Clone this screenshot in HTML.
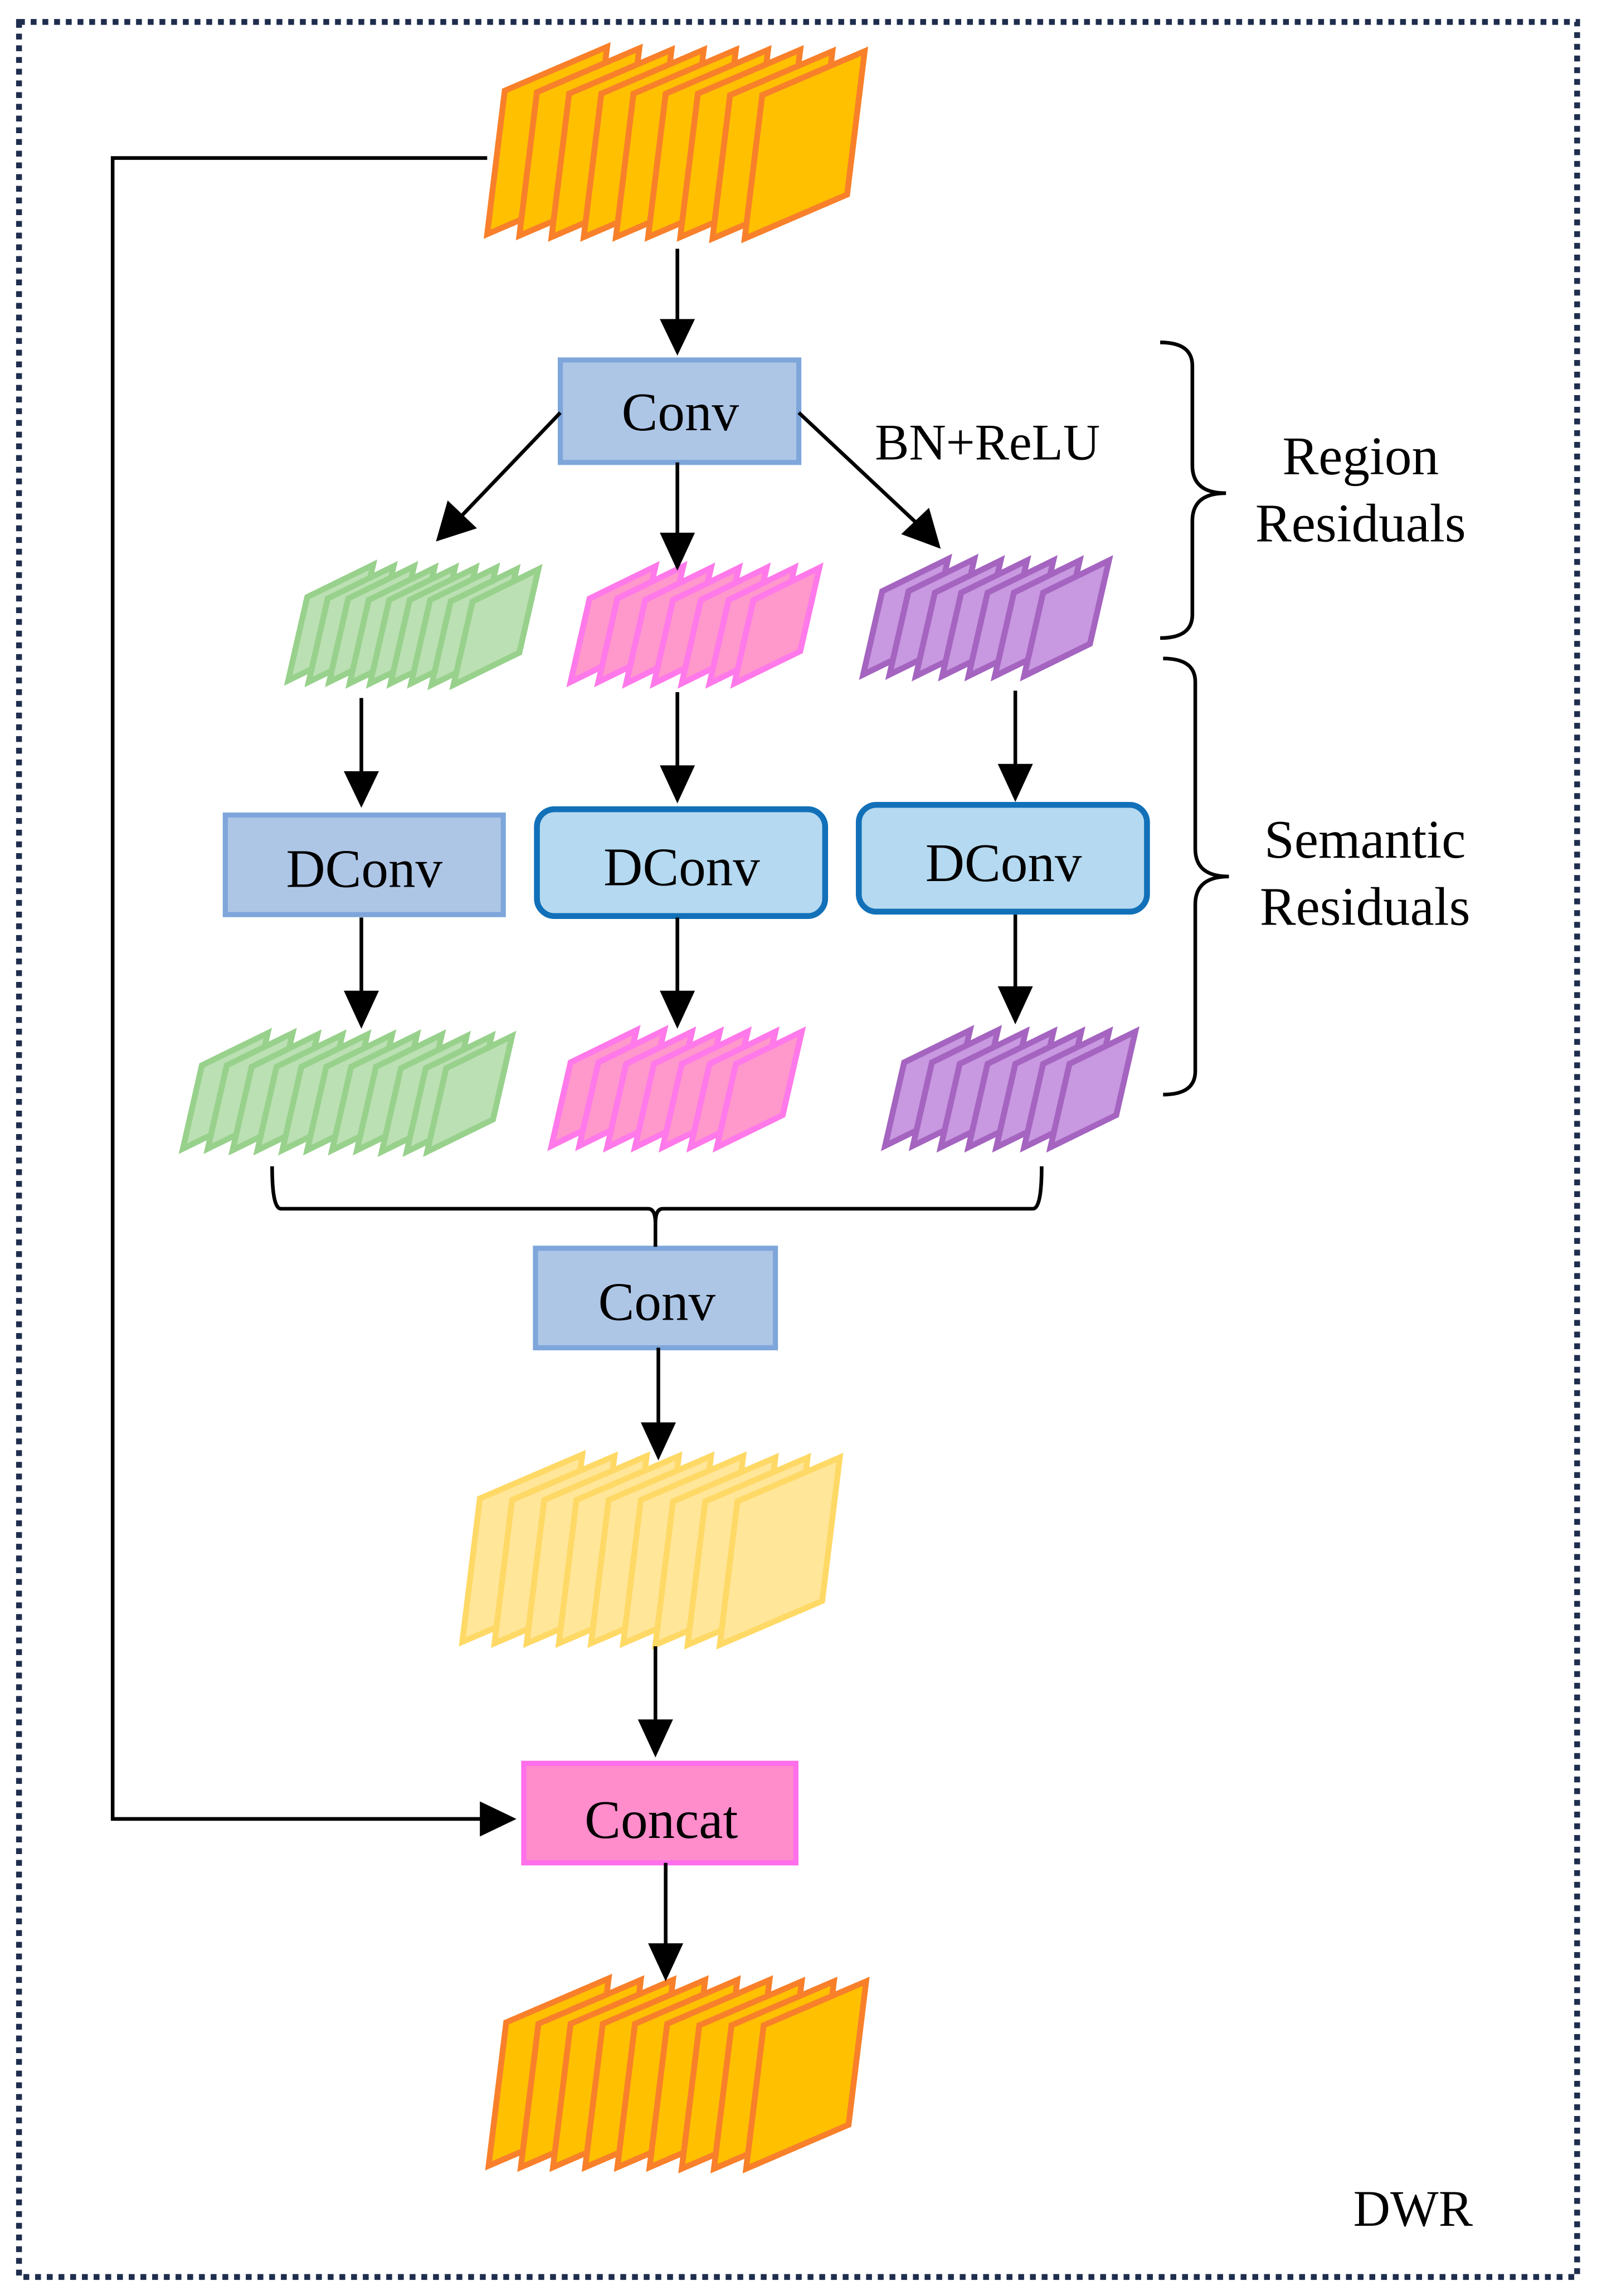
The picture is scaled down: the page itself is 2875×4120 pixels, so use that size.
<!DOCTYPE html>
<html><head><meta charset="utf-8"><style>
html,body{margin:0;padding:0;background:#fff;}
svg{display:block;}
text{font-family:"Liberation Serif","Times New Roman",Times,serif;fill:#000;}
</style></head><body>
<svg width="2875" height="4120" viewBox="0 0 1095 1569" preserveAspectRatio="none" xmlns="http://www.w3.org/2000/svg" font-family="Liberation Serif, serif">
<defs>
<polygon id="big" points="0,0 12,-98 82,-128 70,-30" stroke-width="4" stroke-linejoin="miter"/>
<polygon id="sm" points="0,0 13,-57 58,-79 45,-22" stroke-width="4" stroke-linejoin="miter"/>
</defs>
<rect x="13" y="15" width="1065" height="1541" fill="none" stroke="#1f2d4d" stroke-width="4" stroke-dasharray="4,4"/>

<g fill="#FFC000" stroke="#F8802A">
<use href="#big" x="333" y="160"/><use href="#big" x="355" y="161"/><use href="#big" x="377" y="162"/><use href="#big" x="399" y="162"/><use href="#big" x="421" y="162"/><use href="#big" x="443" y="162"/><use href="#big" x="465" y="162"/><use href="#big" x="487" y="163"/><use href="#big" x="509" y="163"/>
</g>
<g fill="#BBE0B3" stroke="#98D18C">
<use href="#sm" x="197" y="465"/><use href="#sm" x="211" y="466"/><use href="#sm" x="225" y="466"/><use href="#sm" x="239" y="467"/><use href="#sm" x="253" y="467"/><use href="#sm" x="267" y="467"/><use href="#sm" x="281" y="467"/><use href="#sm" x="295" y="468"/><use href="#sm" x="310" y="468"/>
</g>
<g fill="#FF98CB" stroke="#FF79EA">
<use href="#sm" x="390" y="466"/><use href="#sm" x="409" y="466"/><use href="#sm" x="428" y="467"/><use href="#sm" x="447" y="467"/><use href="#sm" x="466" y="467"/><use href="#sm" x="485" y="467"/><use href="#sm" x="502" y="467"/>
</g>
<g fill="#C898E0" stroke="#A464C0">
<use href="#sm" x="590" y="461"/><use href="#sm" x="608" y="461"/><use href="#sm" x="626" y="462"/><use href="#sm" x="644" y="462"/><use href="#sm" x="662" y="462"/><use href="#sm" x="680" y="462"/><use href="#sm" x="700" y="462"/>
</g>
<g fill="#BBE0B3" stroke="#98D18C">
<use href="#sm" x="125" y="785"/><use href="#sm" x="142" y="785"/><use href="#sm" x="159" y="786"/><use href="#sm" x="176" y="786"/><use href="#sm" x="193" y="786"/><use href="#sm" x="210" y="786"/><use href="#sm" x="227" y="786"/><use href="#sm" x="244" y="786"/><use href="#sm" x="261" y="787"/><use href="#sm" x="278" y="787"/><use href="#sm" x="292" y="787"/>
</g>
<g fill="#FF98CB" stroke="#FF79EA">
<use href="#sm" x="377" y="783"/><use href="#sm" x="396" y="783"/><use href="#sm" x="415" y="784"/><use href="#sm" x="434" y="784"/><use href="#sm" x="453" y="784"/><use href="#sm" x="472" y="784"/><use href="#sm" x="490" y="784"/>
</g>
<g fill="#C898E0" stroke="#A464C0">
<use href="#sm" x="605" y="783"/><use href="#sm" x="624" y="783"/><use href="#sm" x="643" y="784"/><use href="#sm" x="662" y="784"/><use href="#sm" x="681" y="784"/><use href="#sm" x="700" y="784"/><use href="#sm" x="718" y="784"/>
</g>
<g fill="#FFE699" stroke="#FFD966">
<use href="#big" x="316" y="1122"/><use href="#big" x="338" y="1123"/><use href="#big" x="360" y="1123"/><use href="#big" x="382" y="1123"/><use href="#big" x="404" y="1123"/><use href="#big" x="426" y="1123"/><use href="#big" x="448" y="1124"/><use href="#big" x="470" y="1124"/><use href="#big" x="492" y="1124"/>
</g>
<g fill="#FFC000" stroke="#F8802A">
<use href="#big" x="334" y="1480"/><use href="#big" x="356" y="1481"/><use href="#big" x="378" y="1481"/><use href="#big" x="400" y="1481"/><use href="#big" x="422" y="1481"/><use href="#big" x="444" y="1481"/><use href="#big" x="466" y="1482"/><use href="#big" x="488" y="1482"/><use href="#big" x="510" y="1482"/>
</g>

<g stroke-width="3.5">
<rect x="383" y="246" width="163" height="70" fill="#AEC6E6" stroke="#7EA6DB"/>
<rect x="154" y="557" width="190" height="68" fill="#AEC6E6" stroke="#7EA6DB"/>
<rect x="367" y="553" width="197" height="73" rx="12" fill="#B4D9F0" stroke="#1170B8" stroke-width="4"/>
<rect x="587" y="550" width="197" height="73" rx="12" fill="#B4D9F0" stroke="#1170B8" stroke-width="4"/>
<rect x="366" y="853" width="164" height="68" fill="#AEC6E6" stroke="#7EA6DB"/>
<rect x="358" y="1205" width="186" height="68" fill="#FF8CCB" stroke="#FF6EEB"/>
</g>
<g font-size="37" text-anchor="middle">
<text x="465" y="294">Conv</text>
<text x="249" y="606">DConv</text>
<text x="466" y="605">DConv</text>
<text x="686" y="602">DConv</text>
<text x="449" y="902">Conv</text>
<text x="452" y="1256">Concat</text>
</g>
<text x="598" y="314" font-size="35">BN+ReLU</text>
<g font-size="37" text-anchor="middle">
<text x="930" y="324">Region</text>
<text x="930" y="370">Residuals</text>
<text x="933" y="586">Semantic</text>
<text x="933" y="632">Residuals</text>
</g>
<text x="925" y="1521" font-size="35">DWR</text>

<g stroke="#000" stroke-width="2.5" fill="none">
<line x1="463" y1="170" x2="463" y2="220"/>
<line x1="383" y1="282" x2="316" y2="352"/>
<line x1="463" y1="316" x2="463" y2="366"/>
<line x1="546" y1="282" x2="626" y2="357"/>
<line x1="247" y1="477" x2="247" y2="528"/>
<line x1="463" y1="473" x2="463" y2="525"/>
<line x1="694" y1="472" x2="694" y2="524"/>
<line x1="247" y1="627" x2="247" y2="679"/>
<line x1="463" y1="627" x2="463" y2="679"/>
<line x1="694" y1="625" x2="694" y2="676"/>
<line x1="450" y1="921" x2="450" y2="974"/>
<line x1="448" y1="1125" x2="448" y2="1177"/>
<line x1="455" y1="1273" x2="455" y2="1330"/>
<polyline points="333,108 77,108 77,1243 330,1243"/>
<path d="M186,797 Q186,826 192,826 L443,826 Q448,826 448,836 L448,852"/>
<path d="M712,797 Q712,826 706,826 L453,826 Q448,826 448,836"/>
<path d="M793,234 Q815,234 815,250 L815,318 Q815,337 838,337 Q815,337 815,356 L815,420 Q815,436 793,436"/>
<path d="M795,450 Q817,450 817,466 L817,580 Q817,599 840,599 Q817,599 817,618 L817,732 Q817,748 795,748"/>
</g>
<g fill="#000">
<polygon points="451,218 475,218 463,243"/>
<polygon points="306,342 326,361 298,370"/>
<polygon points="451,364 475,364 463,390"/>
<polygon points="616,365 635,347 643,375"/>
<polygon points="235,527 259,527 247,552"/>
<polygon points="451,523 475,523 463,549"/>
<polygon points="682,522 706,522 694,548"/>
<polygon points="235,677 259,677 247,703"/>
<polygon points="451,677 475,677 463,703"/>
<polygon points="682,674 706,674 694,700"/>
<polygon points="438,972 462,972 450,998"/>
<polygon points="436,1175 460,1175 448,1201"/>
<polygon points="443,1328 467,1328 455,1354"/>
<polygon points="328,1231 328,1255 353,1243"/>
</g>
</svg>
</body></html>
